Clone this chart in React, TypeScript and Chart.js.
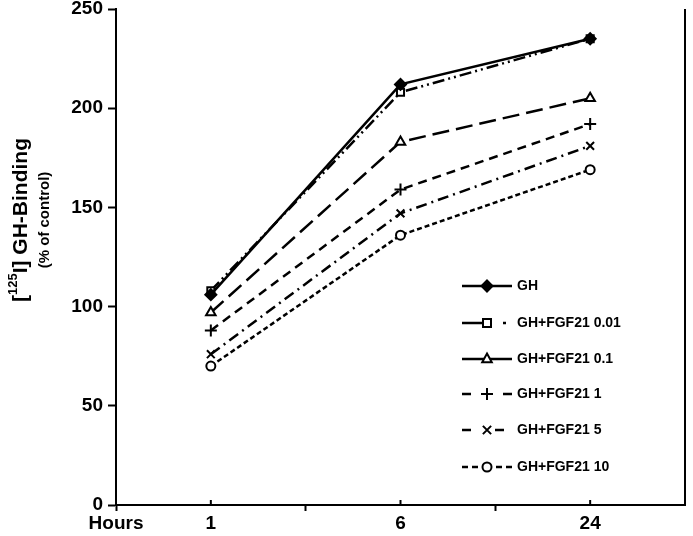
import React, { useEffect, useRef } from "react";
import { Chart, registerables } from "chart.js";

Chart.register(...registerables);

const hourLabels = ["1", "6", "24"];
const hourPositions = [1, 3, 5];
const xTickPositions = [0, 1, 3, 5];
const xTickLabels = ["Hours", "1", "6", "24"];
const yTicks = [0, 50, 100, 150, 200, 250];

const seriesNames = [
  "GH",
  "GH+FGF21 0.01",
  "GH+FGF21 0.1",
  "GH+FGF21 1",
  "GH+FGF21 5",
  "GH+FGF21 10",
];
const ghValues = [106, 212, 235];
const fgf001Values = [108, 208, 235];
const fgf01Values = [97, 183, 205];
const fgf1Values = [88, 159, 192];
const fgf5Values = [76, 147, 181];
const fgf10Values = [70, 136, 169];

const FONT = "Arial, 'Liberation Sans', sans-serif";

const styles = [
  { dash: [], legendDash: [], point: "rectRot", fill: "#000", radius: 5.5 },
  { dash: [12, 4, 2, 4, 2, 4], legendDash: [30, 11, 3, 20], point: "rect", fill: "#fff", radius: 5 },
  { dash: [17, 7], legendDash: [50], point: "triangle", fill: "#fff", radius: 5.5 },
  { dash: [9, 6], legendDash: [9, 32, 9], point: "cross", fill: "#fff", radius: 6 },
  { dash: [11, 5, 2, 5], legendDash: [9, 24, 9, 20], point: "crossRot", fill: "#fff", radius: 5.5 },
  { dash: [5, 3], legendDash: [6, 4, 6, 18, 6, 4, 6], point: "circle", fill: "#fff", radius: 4.5 },
];
const allValues = [ghValues, fgf001Values, fgf01Values, fgf1Values, fgf5Values, fgf10Values];

function drawMarker(ctx: CanvasRenderingContext2D, style: string, x: number, y: number, r: number, fill: string) {
  ctx.save();
  ctx.strokeStyle = "#000";
  ctx.fillStyle = fill;
  ctx.lineWidth = 2;
  ctx.setLineDash([]);
  ctx.beginPath();
  if (style === "rectRot") {
    ctx.moveTo(x, y - r);
    ctx.lineTo(x + r, y);
    ctx.lineTo(x, y + r);
    ctx.lineTo(x - r, y);
    ctx.closePath();
    ctx.fill();
    ctx.stroke();
  } else if (style === "rect") {
    const s = r * 0.8;
    ctx.rect(x - s, y - s, 2 * s, 2 * s);
    ctx.fill();
    ctx.stroke();
  } else if (style === "triangle") {
    ctx.moveTo(x, y - r);
    ctx.lineTo(x + r * 0.87, y + r * 0.6);
    ctx.lineTo(x - r * 0.87, y + r * 0.6);
    ctx.closePath();
    ctx.fill();
    ctx.stroke();
  } else if (style === "cross") {
    ctx.moveTo(x - r, y);
    ctx.lineTo(x + r, y);
    ctx.moveTo(x, y - r);
    ctx.lineTo(x, y + r);
    ctx.stroke();
  } else if (style === "crossRot") {
    const s = r * 0.75;
    ctx.moveTo(x - s, y - s);
    ctx.lineTo(x + s, y + s);
    ctx.moveTo(x + s, y - s);
    ctx.lineTo(x - s, y + s);
    ctx.stroke();
  } else {
    ctx.arc(x, y, r, 0, Math.PI * 2);
    ctx.fill();
    ctx.stroke();
  }
  ctx.restore();
}

const decorPlugin = {
  id: "decor",
  afterDraw(chart: any) {
    const { ctx, chartArea } = chart;
    const xScale = chart.scales.x;
    ctx.save();
    ctx.strokeStyle = "#000";
    ctx.lineWidth = 2;
    ctx.setLineDash([]);
    ctx.beginPath();
    ctx.moveTo(chartArea.right, chartArea.top);
    ctx.lineTo(chartArea.right, chartArea.bottom);
    ctx.stroke();
    hourPositions.forEach((p) => {
      const px = xScale.getPixelForValue(p);
      ctx.beginPath();
      ctx.moveTo(px, chartArea.bottom);
      ctx.lineTo(px, chartArea.bottom - 5);
      ctx.stroke();
    });
    ctx.fillStyle = "#000";
    ctx.textBaseline = "middle";
    ctx.translate(21, 220);
    ctx.rotate(-Math.PI / 2);
    const mainFont = `bold 21px ${FONT}`;
    const supFont = `bold 13px ${FONT}`;
    const parts = [
      { t: "[", f: mainFont, dy: 0 },
      { t: "125", f: supFont, dy: -8 },
      { t: "I] GH-Binding", f: mainFont, dy: 0 },
    ];
    let total = 0;
    parts.forEach((p) => {
      ctx.font = p.f;
      total += ctx.measureText(p.t).width;
    });
    let x = -total / 2;
    parts.forEach((p) => {
      ctx.font = p.f;
      ctx.textAlign = "left";
      ctx.fillText(p.t, x, p.dy);
      x += ctx.measureText(p.t).width;
    });
    ctx.font = `bold 15px ${FONT}`;
    ctx.textAlign = "center";
    ctx.fillText("(% of control)", 0, 24);
    ctx.restore();

    ctx.save();
    const legendX0 = 462;
    const legendX1 = 512;
    const legendYs = [286, 323, 359, 394, 430, 467];
    seriesNames.forEach((name, i) => {
      const y = legendYs[i];
      ctx.strokeStyle = "#000";
      ctx.lineWidth = 2.5;
      ctx.setLineDash(styles[i].legendDash);
      ctx.beginPath();
      ctx.moveTo(legendX0, y);
      ctx.lineTo(legendX1, y);
      ctx.stroke();
      drawMarker(ctx, styles[i].point, (legendX0 + legendX1) / 2, y, styles[i].radius, styles[i].fill);
      ctx.fillStyle = "#000";
      ctx.font = `bold 14px ${FONT}`;
      ctx.textAlign = "left";
      ctx.textBaseline = "middle";
      ctx.fillText(name, 517, y);
    });
    ctx.restore();
  },
};

export default function App() {
  const ref = useRef<HTMLCanvasElement>(null);
  useEffect(() => {
    document.body.style.margin = "0";
    const datasets = allValues.map((vals, i) => ({
      label: seriesNames[i],
      data: hourPositions.map((p, j) => ({ x: p, y: vals[j] })),
      borderColor: "#000",
      backgroundColor: styles[i].fill,
      borderWidth: 2.5,
      borderDash: styles[i].dash,
      pointStyle: styles[i].point,
      pointRadius: styles[i].radius,
      pointBorderWidth: 2,
      pointBorderColor: "#000",
      pointBackgroundColor: styles[i].fill,
      fill: false,
      tension: 0,
    }));
    const chart = new Chart(ref.current!, {
      type: "line",
      data: { datasets: datasets as any },
      options: {
        animation: false,
        responsive: false,
        maintainAspectRatio: false,
        layout: { padding: { left: 0, right: 2, top: 9, bottom: 0 } },
        plugins: { legend: { display: false }, tooltip: { enabled: false } },
        scales: {
          x: {
            type: "linear",
            min: 0,
            max: 6,
            afterBuildTicks: (scale: any) => {
              scale.ticks = [0, 1, 2, 3, 4, 5].map((v) => ({ value: v }));
            },
            afterFit: (scale: any) => {
              scale.height = 31;
              scale.paddingLeft = 0;
              scale.paddingRight = 0;
            },
            ticks: {
              autoSkip: false,
              maxRotation: 0,
              padding: 1,
              color: "#000",
              font: { family: FONT, size: 19, weight: "bold" },
              callback: (v: any) => {
                const idx = xTickPositions.indexOf(Number(v));
                return idx >= 0 ? xTickLabels[idx] : "";
              },
            },
            grid: {
              drawOnChartArea: false,
              drawTicks: true,
              tickLength: 6,
              tickWidth: 2,
              tickColor: (ctx: any) =>
                hourPositions.includes(ctx.tick?.value) ? "rgba(0,0,0,0)" : "#000",
            },
            border: { display: true, color: "#000", width: 2 },
          },
          y: {
            min: 0,
            max: 250,
            afterBuildTicks: (scale: any) => {
              scale.ticks = yTicks.map((v) => ({ value: v }));
            },
            afterFit: (scale: any) => {
              scale.width = 116;
              scale.paddingTop = 0;
              scale.paddingBottom = 0;
            },
            ticks: {
              padding: 5,
              color: "#000",
              font: { family: FONT, size: 19, weight: "bold" },
            },
            grid: {
              drawOnChartArea: false,
              drawTicks: true,
              tickLength: 8,
              tickWidth: 2,
              tickColor: "#000",
            },
            border: { display: true, color: "#000", width: 2 },
          },
        },
      },
      plugins: [decorPlugin],
    });
    return () => chart.destroy();
  }, []);
  return (
    <div style={{ width: 693, height: 536 }}>
      <canvas ref={ref} width={693} height={536} style={{ display: "block" }} />
    </div>
  );
}
